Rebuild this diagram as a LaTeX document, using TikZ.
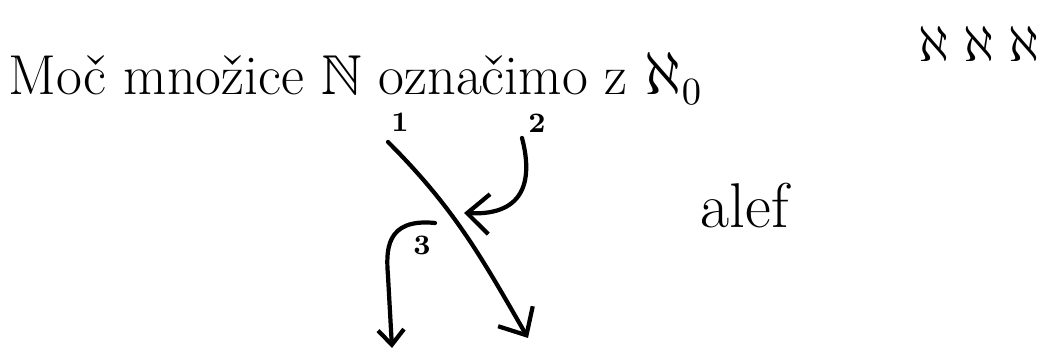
\documentclass[tikz,border=0pt]{standalone}
\usepackage{amssymb}
\usetikzlibrary{arrows.meta,positioning}
\definecolor{skInk}{HTML}{000000}
\tikzset{
  sk/text/.style={text=skInk, inner sep=0pt, anchor=base west},
  sk/heading/.style={sk/text, font=\fontsize{16}{19}\selectfont},
  sk/big/.style={sk/text, font=\fontsize{18}{21}\selectfont},
  sk/num/.style={text=skInk, inner sep=0pt, font=\footnotesize\bfseries},
  sk/stroke/.style={draw=skInk, line width=1.2pt, line cap=round},
  sk/arrow/.style={sk/stroke, -{Straight Barb[length=2.2mm,width=4mm]}},
  sk/smallarrow/.style={sk/stroke, -{Straight Barb[length=1.5mm,width=2.6mm]}},
}

\begin{document}
\begin{tikzpicture}
\useasboundingbox (0,0) rectangle (10.45,3.56);
% text
\node[sk/heading] (title) at (0.08,2.61) {Mo\v{c} mno\v{z}ice $\mathbb{N}$ ozna\v{c}imo z $\aleph_0$};
\node[sk/text, anchor=base east, font=\fontsize{14}{17}\selectfont] (alephs) at (10.40,2.94) {$\aleph\;\aleph\;\aleph$};
\node[sk/big] (alef) at (7.00,1.28) {alef};
% crossing strokes
\coordinate (oneStart) at (3.88,2.14);
\coordinate (oneEnd) at (5.28,0.18);
\coordinate (twoStart) at (5.22,2.18);
\coordinate (twoEnd) at (4.64,1.43);
\coordinate (threeStart) at (4.35,1.33);
\coordinate (threeEnd) at (3.92,0.08);
\node[sk/num] (one) at (4.00,2.34) {1};
\node[sk/num] (two) at (5.37,2.33) {2};
\node[sk/num] (three) at (4.22,1.11) {3};
\draw[sk/arrow] (oneStart) to[out=-45,in=120] (oneEnd);
\draw[sk/arrow] (twoStart) .. controls (5.32,1.80) and (5.28,1.40) .. (twoEnd);
\draw[sk/smallarrow] (threeStart) .. controls (3.85,1.38) and (3.86,1.05) .. (3.88,0.80) -- (threeEnd);
\end{tikzpicture}
\end{document}
